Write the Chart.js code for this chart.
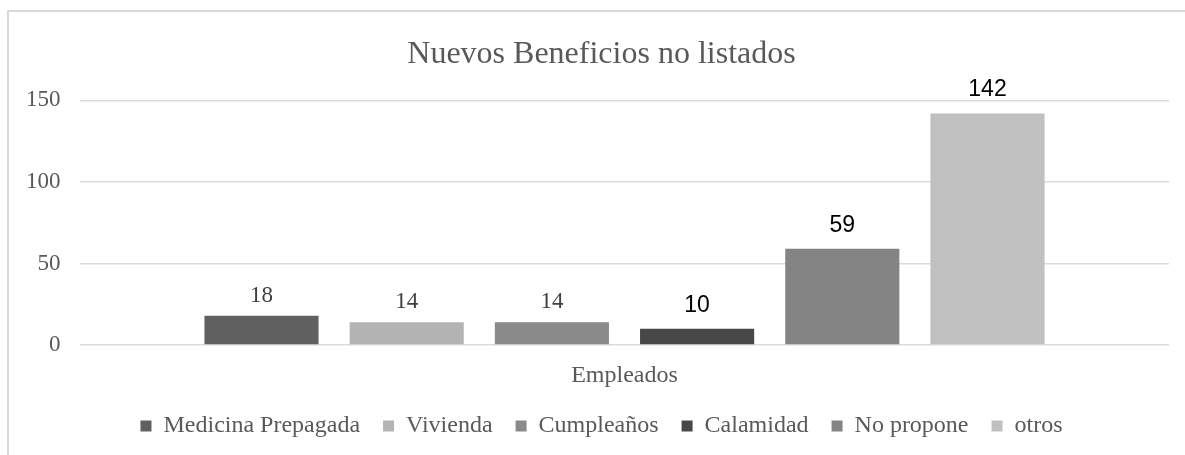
<!DOCTYPE html>
<html>
<head>
<meta charset="utf-8">
<script src="https://cdn.jsdelivr.net/npm/chart.js@4.4.0/dist/chart.umd.min.js"></script>
<style>
  html, body { margin: 0; padding: 0; background: #fff; overflow: hidden; }
  #marco { position: absolute; left: 7px; top: 10px; width: 1200px; height: 480px; border: 2px solid #d9d9d9; box-sizing: border-box; }
  #wrap { position: absolute; left: 0; top: 0; width: 1185px; height: 462px; }
</style>
</head>
<body>
<div id="marco"></div>
<div id="wrap"><canvas id="beneficiosChart" width="1185" height="462"></canvas></div>
<script>
// === Données ===
const categorias = ['Empleados'];
const series = ['Medicina Prepagada', 'Vivienda', 'Cumpleaños', 'Calamidad', 'No propone', 'otros'];
const valores = [18, 14, 14, 10, 59, 142];
const ticksY = [0, 50, 100, 150];

// styles (séparés des données)
const couleurs = ['#606060', '#b3b3b3', '#8a8a8a', '#474747', '#848484', '#c0c0c0'];
const serif = '"Liberation Serif", "Times New Roman", serif';
const sans = '"Liberation Sans", Arial, sans-serif';
const policeEtiquettes = [serif, serif, serif, sans, sans, sans];
const couleurEtiquettes = ['#404040', '#404040', '#404040', '#000000', '#000000', '#000000'];

// === Étiquettes de valeurs au-dessus des barres ===
const etiquettesPlugin = {
  id: 'etiquettes',
  afterDatasetsDraw(chart) {
    const c = chart.ctx;
    chart.data.datasets.forEach((ds, i) => {
      const bar = chart.getDatasetMeta(i).data[0];
      if (!bar) return;
      const estSerif = policeEtiquettes[i] === serif;
      c.save();
      c.font = '23px ' + policeEtiquettes[i];
      c.fillStyle = couleurEtiquettes[i];
      c.textAlign = 'center';
      c.textBaseline = 'alphabetic';
      c.fillText(String(ds.data[0]), bar.x, bar.y - (estSerif ? 14 : 17));
      c.restore();
    });
  }
};

const ctx = document.getElementById('beneficiosChart').getContext('2d');

new Chart(ctx, {
  type: 'bar',
  data: {
    labels: categorias,
    datasets: series.map((nom, i) => ({
      label: nom,
      data: [valores[i]],
      backgroundColor: couleurs[i],
      borderWidth: 0,
      categoryPercentage: 0.8,
      barPercentage: 0.786
    }))
  },
  options: {
    responsive: false,
    animation: false,
    layout: { padding: { left: 34, right: 16, top: 0, bottom: 14 } },
    scales: {
      y: {
        min: 0,
        max: 150,
        afterBuildTicks: (scale) => { scale.ticks = ticksY.map(v => ({ value: v })); },
        afterFit: (scale) => { scale.width = 46; },
        border: { display: false },
        grid: { color: '#dcdcdc', lineWidth: 1.5, drawTicks: false },
        // mirror + padding négatif : étiquettes alignées à droite à x≈60 sans être rognées
        ticks: { color: '#595959', mirror: true, crossAlign: 'far', padding: -54, font: { family: serif, size: 23 } }
      },
      x: {
        afterFit: (scale) => { scale.height = 46; },
        border: { display: false },
        grid: { display: false, drawTicks: false },
        ticks: { color: '#595959', padding: 16, font: { family: serif, size: 24 } }
      }
    },
    plugins: {
      title: {
        display: true,
        text: 'Nuevos Beneficios no listados',
        color: '#595959',
        font: { family: serif, size: 32, weight: 'normal' },
        padding: { top: 35, bottom: 27 }
      },
      legend: {
        position: 'bottom',
        labels: {
          color: '#595959',
          boxWidth: 11,
          boxHeight: 11,
          padding: 23,
          font: { family: serif, size: 24 }
        }
      },
      tooltip: { enabled: false }
    }
  },
  plugins: [etiquettesPlugin]
});
</script>
</body>
</html>
